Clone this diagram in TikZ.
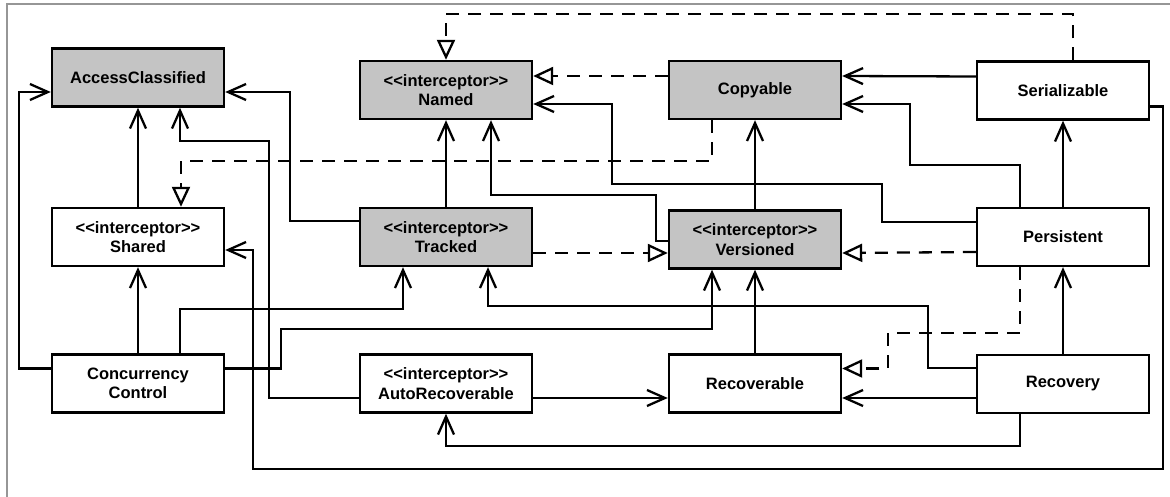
\documentclass[tikz,border=0pt]{standalone}
\usepackage{fontspec}
\setmainfont{Liberation Sans}
\usetikzlibrary{arrows.meta}
\definecolor{classgray}{RGB}{196,196,196}
\definecolor{framegray}{RGB}{150,150,150}
\newcommand{\stereo}{<{}<interceptor>{}>}
\begin{document}
\begin{tikzpicture}[x=1pt,y=-1pt,
  cls/.style={draw, line width=2.4pt, minimum width=172pt, minimum height=58pt,
    align=center, inner sep=0pt, font=\fontsize{16.5}{19.5}\selectfont\bfseries},
  shade/.style={cls, fill=classgray},
  assoc/.style={line width=2.3pt, -{Straight Barb[length=18pt,width=16pt,line width=2.3pt]}},
  realize/.style={line width=2.3pt, dash pattern=on 13pt off 9pt,
    -{Triangle[open,length=20pt,width=18pt,line width=2.3pt,fill=white]}},
  every path/.append style={line join=miter}]
\useasboundingbox (0,0) rectangle (1170,497);
% outer frame
\draw[framegray, line width=1.5pt] (7,497) -- (7,4) -- (1170,4);

% classes
\node[shade] (AC)    at (138,77.5)  {AccessClassified};
\node[shade] (Named) at (446,90)    {\stereo\\Named};
\node[shade] (Copy)  at (755,90)    {Copyable};
\node[cls]   (Ser)   at (1063,90.5) {Serializable};
\node[cls]   (Shared) at (138,237)  {\stereo\\Shared};
\node[shade] (Tracked) at (446,237) {\stereo\\Tracked};
\node[shade] (Vers)  at (755,239.5) {\stereo\\Versioned};
\node[cls]   (Pers)  at (1063,237)  {Persistent};
\node[cls]   (CC)    at (138,383.5) {Concurrency\\Control};
\node[cls]   (Auto)  at (446,383.5) {\stereo\\AutoRecoverable};
\node[cls]   (Recov) at (755,383.5) {Recoverable};
\node[cls]   (Recy)  at (1063,384)  {Recovery};

% realizations (dashed)
\draw[realize] ([xshift=10pt]Ser.north) -- ++(0,-46) -| (Named.north);
\draw[realize] ([yshift=14pt]Copy.west) -- ([yshift=14pt]Named.east);
\draw[realize] ([xshift=-43pt]Copy.south) |- (181,161) -| ([xshift=43pt]Shared.north);
\draw[realize] ([yshift=-16pt]Tracked.east) -- ([yshift=-13.5pt]Vers.west);
\draw[realize] ([yshift=-15pt]Pers.west) -- ([yshift=-13.5pt]Vers.east);
\draw[realize] ([xshift=-43pt]Pers.south) |- (888,333) |- ([yshift=15pt]Recov.east);

% associations
\draw[assoc] (Shared.north) -- (AC.south);
\draw[assoc] (CC.north) -- (Shared.south);
\draw[assoc] ([yshift=15pt]CC.west) -- ++(-32,0) |- ([yshift=-14.5pt]AC.west);
\draw[assoc] ([yshift=16pt]Tracked.west) -- ++(-69,0) |- ([yshift=-14.5pt]AC.east);
\draw[assoc] ([yshift=-14.5pt]Auto.west) -| (269,141) -| ([xshift=42pt]AC.south);
\draw[assoc] (Tracked.north) -- (Named.south);
\draw[assoc] ([yshift=-1.5pt]Vers.west) -- ++(-12,0) |- (491,195) -- ([xshift=45pt]Named.south);
\draw[assoc] ([yshift=15pt]Pers.west) -- ++(-94,0) |- (612,184) |- ([yshift=-14pt]Named.east);
\draw[assoc] ([xshift=-43pt]Pers.north) |- (910,165) |- ([yshift=-14pt]Copy.east);
\draw[assoc] ([yshift=14pt]Ser.west) -- ([yshift=14pt]Copy.east);
\draw[assoc] (Pers.north) -- (Ser.south);
\draw[assoc] (Vers.north) -- (Copy.south);
\draw[assoc] (Recy.north) -- (Pers.south);
\draw[assoc] ([yshift=16pt]Recy.west) -- ++(-48,0) |- (488,306) -- ([xshift=42pt]Tracked.south);
\draw[assoc] ([yshift=-14pt]Recy.west) -- ([yshift=-14.5pt]Recov.east);
\draw[assoc] ([xshift=-43pt]Recy.south) -- ++(0,32) -| (Auto.south);
\draw[assoc] ([yshift=-14.5pt]Auto.east) -- ([yshift=-14.5pt]Recov.west);
\draw[assoc] (Recov.north) -- (Vers.south);
\draw[assoc] ([xshift=42pt]CC.north) -- ++(0,-44) -| ([xshift=-43pt]Tracked.south);
\draw[assoc] ([yshift=15pt]CC.east) -- ++(56,0) |- (712,329) -- ([xshift=-43pt]Vers.south);
\draw[assoc] ([yshift=-16pt]Ser.east) -| (1163,469) -| (253,250) -- ([yshift=-13pt]Shared.east);
\end{tikzpicture}
\end{document}
